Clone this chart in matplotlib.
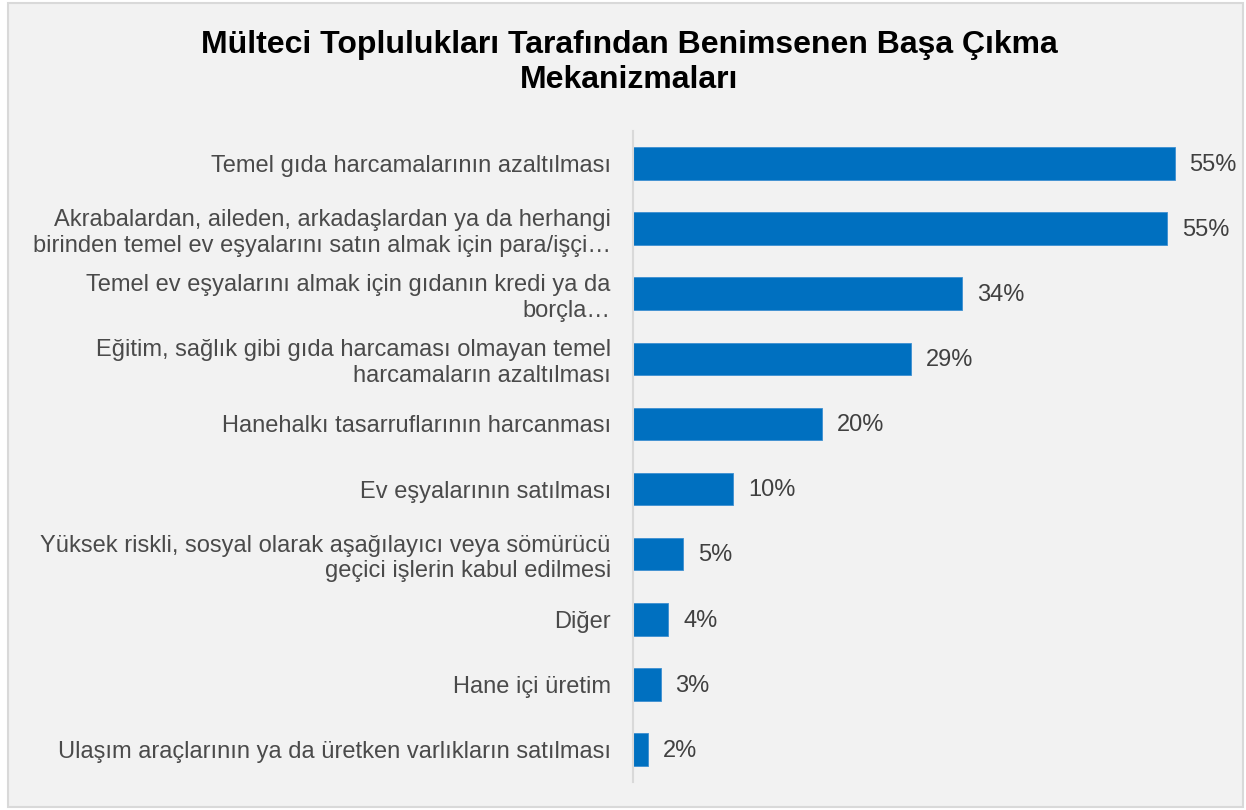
import matplotlib.pyplot as plt
from matplotlib.patches import Rectangle

plt.rcParams['font.family'] = ['Liberation Sans', 'DejaVu Sans']

categories = [
    'Temel gıda harcamalarının azaltılması',
    'Akrabalardan, aileden, arkadaşlardan ya da herhangi\nbirinden temel ev eşyalarını satın almak için para/işçi…',
    'Temel ev eşyalarını almak için gıdanın kredi ya da\nborçla…',
    'Eğitim, sağlık gibi gıda harcaması olmayan temel\nharcamaların azaltılması',
    'Hanehalkı tasarruflarının harcanması',
    'Ev eşyalarının satılması',
    'Yüksek riskli, sosyal olarak aşağılayıcı veya sömürücü\ngeçici işlerin kabul edilmesi',
    'Diğer',
    'Hane içi üretim',
    'Ulaşım araçlarının ya da üretken varlıkların satılması',
]
values = [55.0, 54.2, 33.4, 28.2, 19.2, 10.2, 5.1, 3.6, 2.8, 1.5]
value_labels = ['55%', '55%', '34%', '29%', '20%', '10%', '5%', '4%', '3%', '2%']

W, H = 1246, 810
fig = plt.figure(figsize=(W / 100, H / 100), dpi=100, facecolor='white')

# grey panel with thin border, behind the axes
fig.patches.append(Rectangle((8 / W, 3 / H), 1235 / W, 804 / H, transform=fig.transFigure,
                             facecolor='#f2f2f2', edgecolor='#d9d9d9', linewidth=1.5,
                             zorder=-10))

fig.text(629 / W, 1 - 45 / H, 'Mülteci Toplulukları Tarafından Benimsenen Başa Çıkma',
         ha='center', va='center', fontsize=23, fontweight='bold', color='black')
fig.text(629 / W, 1 - 80 / H, 'Mekanizmaları',
         ha='center', va='center', fontsize=23, fontweight='bold', color='black')

ax = fig.add_axes([633 / W, 1 - 782 / H, (1240 - 633) / W, (782 - 131) / H])
ax.set_facecolor('none')

y = list(range(len(categories)))
ax.barh(y, values, height=0.5, color='#0070c0', edgecolor='#3d8fd1', linewidth=0.6)
for yi, v, lab in zip(y, values, value_labels):
    ax.text(v + 1.5, yi + 0.02, lab, va='center', ha='left', fontsize=17, color='#404040')

ax.set_ylim(len(categories) - 0.5, -0.5)
ax.set_xlim(0, (1240 - 633) / 9.85)
ax.set_yticks(y)
ax.set_yticklabels(categories, fontsize=17, color='#4a4a4a', linespacing=1.2)
ax.tick_params(axis='y', length=0, pad=16)
ax.set_xticks([])
for s in ['top', 'right', 'bottom']:
    ax.spines[s].set_visible(False)
ax.spines['left'].set_color('#d9d9d9')
ax.spines['left'].set_linewidth(1.5)

fig.savefig('out.png', dpi=100, facecolor='white')
